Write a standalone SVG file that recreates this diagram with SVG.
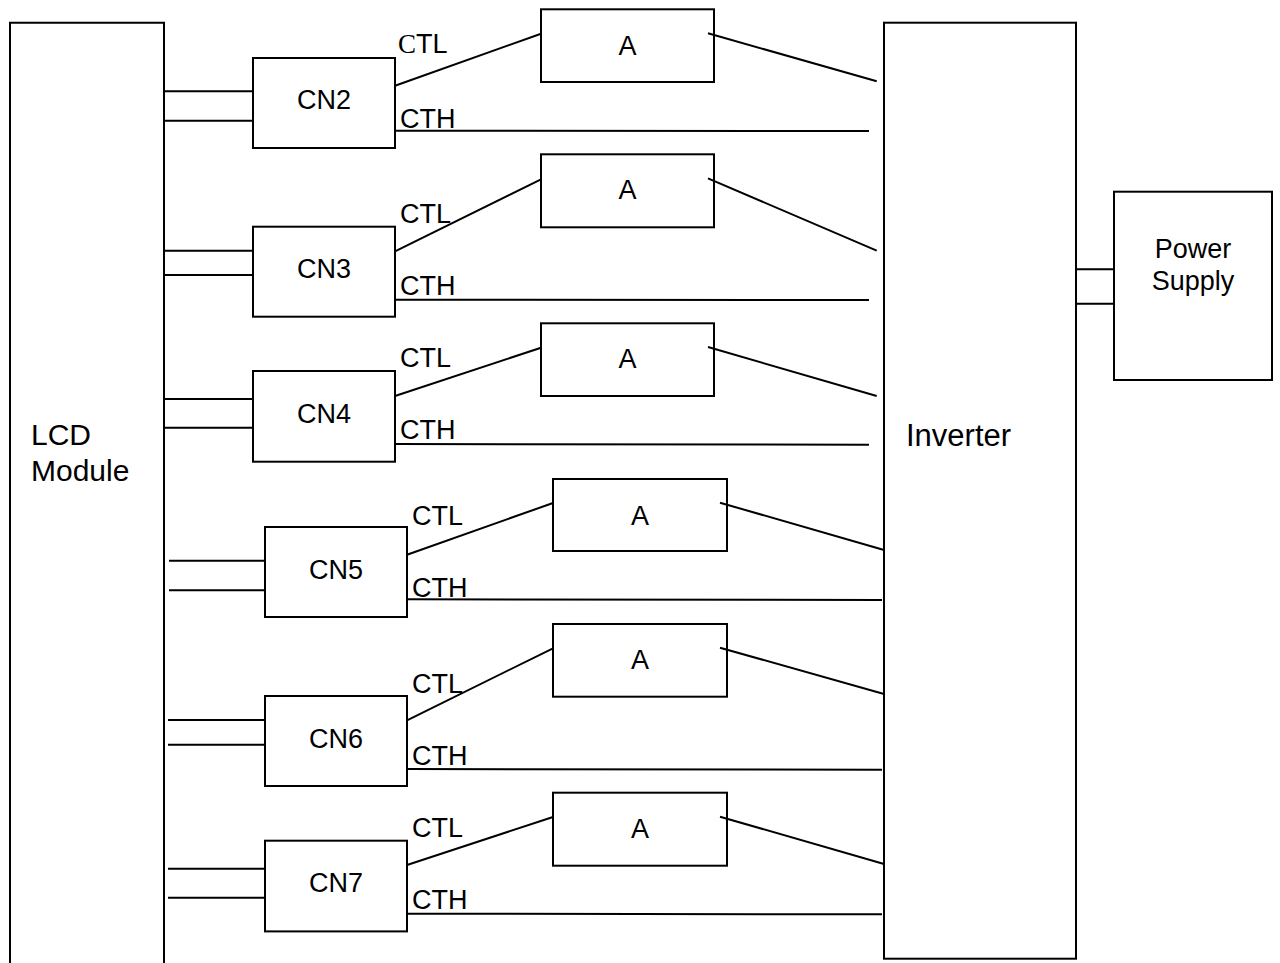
<svg xmlns="http://www.w3.org/2000/svg" width="1280" height="963" viewBox="0 0 1280 963">
<style>
.b{fill:none;stroke:#000;stroke-width:2}
.l{fill:none;stroke:#000;stroke-width:2}
.t{font-family:"Liberation Sans",Arial,sans-serif;font-size:27px;fill:#000}
.m{text-anchor:middle}
</style>
<rect width="1280" height="963" fill="#fff"/>
<g id="lcd">
<path class="b" d="M10,965 V22.7 H164 V965"/>
<text class="t" x="31" y="445" style="font-size:30px">LCD</text>
<text class="t" x="31" y="481" style="font-size:30px">Module</text>
</g>
<g id="inverter">
<rect class="b" x="884" y="22.7" width="192" height="936"/>
<text class="t" x="906" y="446" style="font-size:31px">Inverter</text>
</g>
<g id="power">
<rect class="b" x="1114" y="191.7" width="158" height="188.3"/>
<text class="t m" x="1193" y="258" style="font-size:27px">Power</text>
<text class="t m" x="1193" y="290" style="font-size:27px">Supply</text>
</g>
<g id="cn2"><rect class="b" x="253" y="58" width="142" height="90"/><text class="t m" x="324" y="109">CN2</text></g>
<g id="cn3"><rect class="b" x="253" y="226.7" width="142" height="90"/><text class="t m" x="324" y="277.7">CN3</text></g>
<g id="cn4"><rect class="b" x="253" y="371" width="142" height="90.7"/><text class="t m" x="324" y="422.7">CN4</text></g>
<g id="cn5"><rect class="b" x="265" y="527" width="142" height="90"/><text class="t m" x="336" y="579">CN5</text></g>
<g id="cn6"><rect class="b" x="265" y="696" width="142" height="90"/><text class="t m" x="336" y="747.7">CN6</text></g>
<g id="cn7"><rect class="b" x="265" y="840.7" width="142" height="90.7"/><text class="t m" x="336" y="891.7">CN7</text></g>
<g id="a1"><rect class="b" x="541" y="9.3" width="173" height="72.7"/><text class="t m" x="627.5" y="55">A</text></g>
<g id="a2"><rect class="b" x="541" y="154.3" width="173" height="73"/><text class="t m" x="627.5" y="199.3">A</text></g>
<g id="a3"><rect class="b" x="541" y="323.3" width="173" height="72.7"/><text class="t m" x="627.5" y="368.3">A</text></g>
<g id="a4"><rect class="b" x="553" y="479" width="174" height="72"/><text class="t m" x="640" y="524.5">A</text></g>
<g id="a5"><rect class="b" x="553" y="624" width="174" height="72.7"/><text class="t m" x="640" y="669.3">A</text></g>
<g id="a6"><rect class="b" x="553" y="792.7" width="174" height="73"/><text class="t m" x="640" y="838.3">A</text></g>
<g id="labels">
<text class="t" x="398" y="53"><tspan style="font-family:'Liberation Serif',serif">C</tspan>TL</text>
<text class="t" x="400" y="127.7">CTH</text>
<text class="t" x="400" y="222.7">CTL</text>
<text class="t" x="400" y="295">CTH</text>
<text class="t" x="400" y="367.3">CTL</text>
<text class="t" x="400" y="439.3">CTH</text>
<text class="t" x="412" y="525">CTL</text>
<text class="t" x="412" y="596.7">CTH</text>
<text class="t" x="412" y="692.7">CTL</text>
<text class="t" x="412" y="765">CTH</text>
<text class="t" x="412" y="836.7">CTL</text>
<text class="t" x="412" y="909.3">CTH</text>
</g>
<g id="connectors">
<path class="l" d="M164,91.3H253M164,120.7H253"/>
<path class="l" d="M164,250.7H253M164,275H253"/>
<path class="l" d="M164,399H253M164,427.7H253"/>
<path class="l" d="M169,560.7H265M169,590.3H265"/>
<path class="l" d="M168,720H265M168,744.7H265"/>
<path class="l" d="M168,868.7H265M168,897.7H265"/>
<path class="l" d="M1076,269.3H1114M1076,303.7H1114"/>
<path class="l" d="M395,85.7L541,33.7M708,33.3L876.7,81.3M396,130.7L869,131"/>
<path class="l" d="M395,251.3L541,179.3M708,178.3L876.7,250.7M395,299.7L869,300"/>
<path class="l" d="M395,396L541,347.7M708,347L876.7,396M395,444L869,444.7"/>
<path class="l" d="M407,554.7L553,503M720,502.7L884,550M407,599.3L882,600"/>
<path class="l" d="M407,720.3L553,648.3M720,647.7L884,694M407,769L882,769.7"/>
<path class="l" d="M407,865L553,817M720,816.7L884,864M407,913.7L882,914.3"/>
</g>
</svg>
